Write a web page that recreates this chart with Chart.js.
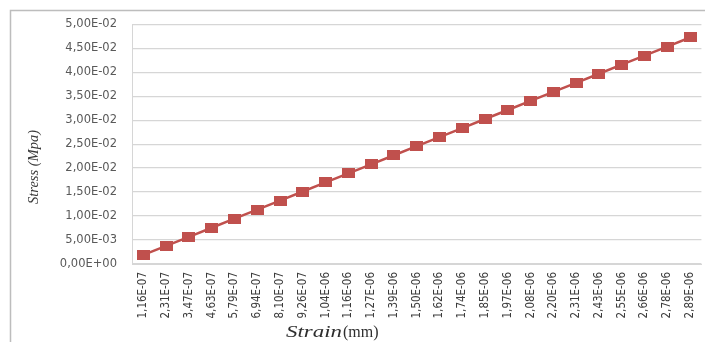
<!DOCTYPE html>
<html>
<head>
<meta charset="utf-8">
<script src="https://cdn.jsdelivr.net/npm/chart.js@4/dist/chart.umd.min.js"></script>
<style>
  html, body { margin: 0; padding: 0; background: #ffffff; overflow: hidden; }
  #wrap { position: absolute; left: 0; top: 0; width: 712px; height: 342px; }
</style>
</head>
<body>
<div id="wrap"><canvas id="chart" width="712" height="342"></canvas></div>
<script>
// Strain values (mm) along the x axis
const strainLabels = [
  '1,16E-07', '2,31E-07', '3,47E-07', '4,63E-07', '5,79E-07', '6,94E-07',
  '8,10E-07', '9,26E-07', '1,04E-06', '1,16E-06', '1,27E-06', '1,39E-06',
  '1,50E-06', '1,62E-06', '1,74E-06', '1,85E-06', '1,97E-06', '2,08E-06',
  '2,20E-06', '2,31E-06', '2,43E-06', '2,55E-06', '2,66E-06', '2,78E-06',
  '2,89E-06'
];

// Stress values (Mpa)
const stressValues = [
  0.00189, 0.00378, 0.00567, 0.00756, 0.00945, 0.01134, 0.01323, 0.01512,
  0.01701, 0.01890, 0.02079, 0.02268, 0.02457, 0.02646, 0.02835, 0.03024,
  0.03213, 0.03402, 0.03591, 0.03780, 0.03969, 0.04158, 0.04347, 0.04536,
  0.04725
];

// Stress axis range
const stressMin = 0;
const stressMax = 0.05;
const stressStep = 0.005;

const seriesColor = '#C0504D';

// scientific notation with a decimal comma, e.g. 5,00E-02
function sciComma(v) {
  if (Math.abs(v) < 1e-12) return '0,00E+00';
  const parts = v.toExponential(2).split('e');
  const mant = parts[0].replace('.', ',');
  const exp = parseInt(parts[1], 10);
  const sign = exp < 0 ? '-' : '+';
  const digits = String(Math.abs(exp)).padStart(2, '0');
  return mant + 'E' + sign + digits;
}

// marker image: a slightly wide filled square
const marker = document.createElement('canvas');
marker.width = 13;
marker.height = 10;
(function () {
  const m = marker.getContext('2d');
  m.fillStyle = seriesColor;
  m.fillRect(0, 0, 13, 10);
})();

// outer frame and axis titles
const decorations = {
  id: 'decorations',
  beforeDraw(chart) {
    const ctx = chart.ctx;
    ctx.save();
    ctx.strokeStyle = '#bdbdbd';
    ctx.lineWidth = 1.5;
    ctx.strokeRect(10.5, 10.5, 900, 600);
    ctx.restore();
  },
  afterDraw(chart) {
    const ctx = chart.ctx;

    // vertical title
    ctx.save();
    ctx.fillStyle = '#3a3a3a';
    ctx.font = 'italic 14.5px "Liberation Serif", "Times New Roman", serif';
    ctx.textAlign = 'center';
    ctx.textBaseline = 'middle';
    ctx.translate(34, 167);
    ctx.rotate(-Math.PI / 2);
    ctx.fillText('Stress (Mpa)', 0, 0);
    ctx.restore();

    // horizontal title: italic word stretched wide, then unit
    ctx.save();
    ctx.fillStyle = '#2e2e2e';
    ctx.textBaseline = 'alphabetic';
    ctx.textAlign = 'left';
    const baseY = 337;
    const startX = 286;
    ctx.font = 'italic 16px "Liberation Serif", "Times New Roman", serif';
    const wWord = ctx.measureText('Strain').width;
    const stretch = 56 / wWord;
    ctx.save();
    ctx.translate(startX, baseY);
    ctx.scale(stretch, 1);
    ctx.fillText('Strain', 0, 0);
    ctx.restore();
    ctx.font = '16px "Liberation Serif", "Times New Roman", serif';
    ctx.fillText('(mm)', startX + 57, baseY);
    ctx.restore();
  }
};

new Chart(document.getElementById('chart'), {
  type: 'line',
  data: {
    labels: strainLabels,
    datasets: [{
      data: stressValues,
      borderColor: seriesColor,
      backgroundColor: seriesColor,
      borderWidth: 2.5,
      tension: 0,
      pointStyle: marker,
      pointRadius: 6,
      pointHoverRadius: 6
    }]
  },
  options: {
    responsive: false,
    animation: false,
    devicePixelRatio: 1,
    layout: { padding: { top: 24.3, right: 3.5, bottom: 0, left: 0 } },
    plugins: {
      legend: { display: false },
      tooltip: { enabled: false }
    },
    scales: {
      x: {
        offset: true,
        grid: { display: false, drawTicks: false },
        border: { display: true, color: '#d6d6d6', width: 1 },
        ticks: {
          autoSkip: false,
          minRotation: 90,
          maxRotation: 90,
          padding: 8,
          color: '#3c3c3c',
          font: { family: '"Liberation Sans Narrow", "DejaVu Sans Condensed", sans-serif', size: 11.5 }
        },
        afterFit(scale) { scale.height = 78; }
      },
      y: {
        min: stressMin,
        max: stressMax,
        ticks: {
          stepSize: stressStep,
          padding: 15,
          color: '#595959',
          font: { family: '"DejaVu Sans", sans-serif', size: 11.5 },
          callback: (v) => sciComma(v)
        },
        grid: { color: '#d6d6d6', lineWidth: 1.3, drawTicks: false },
        border: { display: true, color: '#d6d6d6', width: 1 },
        afterFit(scale) { scale.width = 132; }
      }
    }
  },
  plugins: [decorations]
});
</script>
</body>
</html>
